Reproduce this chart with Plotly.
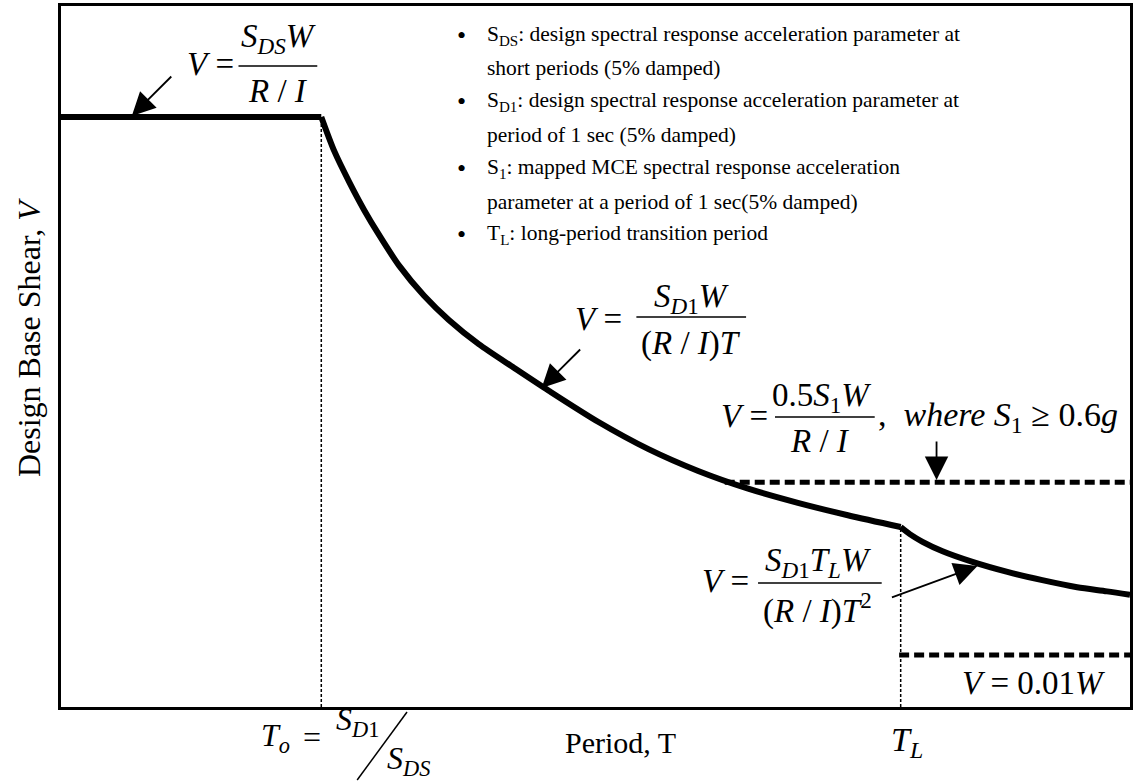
import plotly.graph_objects as go

# ---- spectrum values (normalised: V at the plateau = 1, T_o = 1) ----
period_flat = [0.0, 1.0]
shear_flat = [1.0, 1.0]

period_mid = [1.000, 1.050, 1.107, 1.165, 1.222, 1.299, 1.395, 1.490, 1.605,
              1.740, 1.874, 2.065, 2.257, 2.448, 2.640, 2.831, 3.023, 3.226]
shear_mid = [1.000, 0.942, 0.890, 0.842, 0.800, 0.748, 0.697, 0.656, 0.615,
             0.575, 0.536, 0.483, 0.437, 0.400, 0.370, 0.346, 0.325, 0.305]

period_long = [3.226, 3.261, 3.310, 3.387, 3.502, 3.636, 3.770, 3.904, 4.019, 4.107]
shear_long = [0.305, 0.293, 0.280, 0.264, 0.246, 0.229, 0.215, 0.203, 0.196, 0.190]

T_O = 1.0
T_L = 3.226
T_MAX = 4.107
V_MAX = 1.188

floor_s1_period = [2.55, 4.107]
floor_s1_shear = [0.381, 0.381]
floor_min_period = [3.22, 4.107]
floor_min_shear = [0.088, 0.088]

bullet_lines = [
    ("•", "S<sub>DS</sub>: design spectral response acceleration parameter at"),
    ("", "short periods (5% damped)"),
    ("•", "S<sub>D1</sub>: design spectral response acceleration parameter at"),
    ("", "period of 1 sec (5% damped)"),
    ("•", "S<sub>1</sub>: mapped MCE spectral response acceleration"),
    ("", "parameter at a period of 1 sec(5% damped)"),
    ("•", "T<sub>L</sub>: long-period transition period"),
]

# ---- figure geometry ----
FIG_W, FIG_H = 1135, 782
M_L, M_R, M_T, M_B = 61, 2, 6, 75
PW = FIG_W - M_L - M_R
PH = FIG_H - M_T - M_B
SERIF = "Liberation Serif, Times New Roman, serif"
EQ = 33  # formula font size


def px(x):
    return (x - M_L) / PW


def py(y):
    return (M_T + PH - y) / PH


fig = go.Figure()

fig.add_trace(go.Scatter(x=period_flat, y=shear_flat, mode="lines",
                         line=dict(color="black", width=6), hoverinfo="skip"))
fig.add_trace(go.Scatter(x=period_mid, y=shear_mid, mode="lines",
                         line=dict(color="black", width=6, shape="spline", smoothing=0.8),
                         hoverinfo="skip"))
fig.add_trace(go.Scatter(x=period_long, y=shear_long, mode="lines",
                         line=dict(color="black", width=6, shape="spline", smoothing=0.8),
                         hoverinfo="skip"))

floor_line = dict(color="black", width=5, dash="10px,5px")
fig.add_trace(go.Scatter(x=floor_s1_period, y=floor_s1_shear, mode="lines",
                         line=floor_line, hoverinfo="skip"))
fig.add_trace(go.Scatter(x=floor_min_period, y=floor_min_shear, mode="lines",
                         line=floor_line, hoverinfo="skip"))

# dotted guides down to the period axis
guide = dict(color="black", width=1.5, dash="3px,2px")
fig.add_trace(go.Scatter(x=[T_O, T_O], y=[0, shear_flat[-1]], mode="lines",
                         line=guide, hoverinfo="skip"))
fig.add_trace(go.Scatter(x=[T_L, T_L], y=[0, shear_long[0]], mode="lines",
                         line=guide, hoverinfo="skip"))


def text(x, y, s, size=EQ, anchor="center"):
    fig.add_annotation(x=px(x), y=py(y), xref="paper", yref="paper", text=s,
                       showarrow=False, xanchor=anchor, yanchor="middle",
                       font=dict(family=SERIF, size=size, color="black"))


def bar(x0, x1, y):
    fig.add_shape(type="line", xref="paper", yref="paper",
                  x0=px(x0), x1=px(x1), y0=py(y), y1=py(y),
                  line=dict(color="black", width=1.5))


def arrow(tip, tail):
    fig.add_annotation(x=px(tip[0]), y=py(tip[1]), xref="paper", yref="paper",
                       ax=tail[0] - tip[0], ay=tail[1] - tip[1], text="",
                       showarrow=True, arrowhead=2, arrowsize=2.6, arrowwidth=1.8,
                       arrowcolor="black", standoff=0, startstandoff=0)


# plateau formula
text(211, 64, "<i>V</i> =")
text(279, 38, "<i>S</i><sub><i>DS</i></sub><i>W</i>")
bar(239, 318, 66)
text(279, 91, "<i>R</i> / <i>I</i>")
arrow((132, 116), (173, 75))

# velocity-controlled branch
text(600, 319, "<i>V</i> =")
text(693, 298, "<i>S</i><sub><i>D</i>1</sub><i>W</i>")
bar(638, 748, 317)
text(693, 343, "(<i>R</i> / <i>I</i>)<i>T</i>")
arrow((543, 388), (583, 348))

# upper floor
text(746, 416, "<i>V</i> =")
text(824, 397, "0.5<i>S</i><sub>1</sub><i>W</i>")
bar(777, 877, 417)
text(822, 441, "<i>R</i> / <i>I</i>")
text(878, 417, ",  <i>where S</i><sub>1</sub> ≥ 0.6<i>g</i>", size=34, anchor="left")
arrow((939, 480), (939, 440))

# displacement-controlled branch
text(727, 581, "<i>V</i> =")
text(820, 562, "<i>S</i><sub><i>D</i>1</sub><i>T</i><sub><i>L</i></sub><i>W</i>")
bar(760, 884, 583)
text(820, 608, "(<i>R</i> / <i>I</i>)<i>T</i><sup>2</sup>")
arrow((980, 566), (893, 598))

# minimum base shear
text(1036, 683, "<i>V</i> = 0.01<i>W</i>")

# notation list
for i, (mark, line) in enumerate(bullet_lines):
    y = 35 + i * 33.3
    if mark:
        text(463, y, mark, size=26)
    text(486, y, line, size=21.5, anchor="left")

# period axis labels
text(276, 737, "<i>T</i><sub><i>o</i></sub>", size=32)
text(313, 737, "=", size=32)
text(358, 721, "<i>S</i><sub><i>D</i>1</sub>", size=32)
fig.add_shape(type="line", xref="paper", yref="paper",
              x0=px(358), y0=py(780), x1=px(408), y1=py(712),
              line=dict(color="black", width=1.5))
text(409, 760, "<i>S</i><sub><i>DS</i></sub>", size=32)
text(622, 742, "Period, T", size=30)
text(909, 742, "<i>T</i><sub><i>L</i></sub>", size=34)

# shear axis label
fig.add_annotation(x=px(29), y=py(338), xref="paper", yref="paper",
                   text="Design Base Shear, <i>V</i>", textangle=-90,
                   showarrow=False, xanchor="center", yanchor="middle",
                   font=dict(family=SERIF, size=32, color="black"))

axis_common = dict(showgrid=False, zeroline=False, showticklabels=False, ticks="",
                   showline=True, linecolor="black", linewidth=3, mirror=True)
fig.update_xaxes(range=[0, T_MAX], **axis_common)
fig.update_yaxes(range=[0, V_MAX], **axis_common)

fig.update_layout(width=FIG_W, height=FIG_H, showlegend=False,
                  margin=dict(l=M_L, r=M_R, t=M_T, b=M_B),
                  plot_bgcolor="white", paper_bgcolor="white")

fig.write_html("out.html")
